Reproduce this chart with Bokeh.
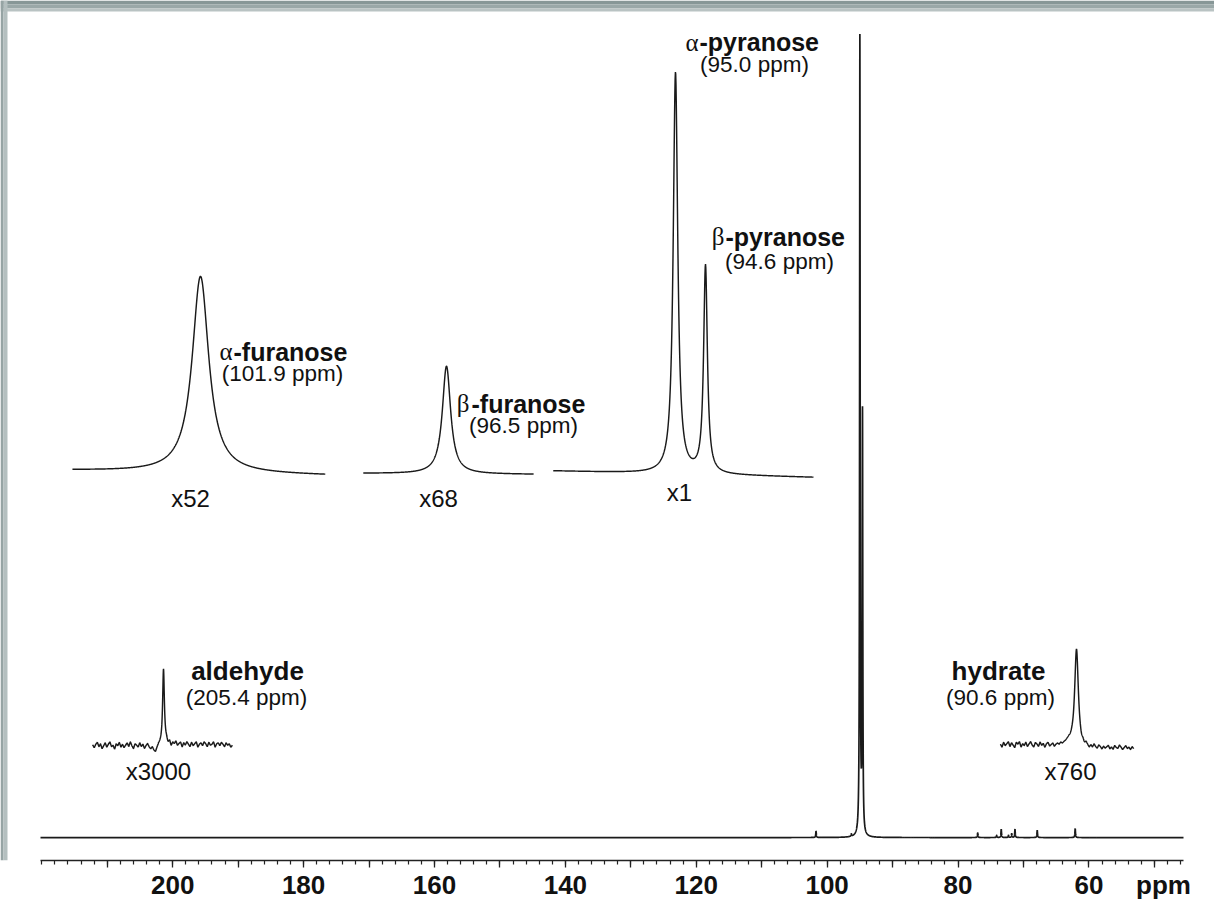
import numpy as np
from bokeh.plotting import figure
from bokeh.models import Range1d, FixedTicker, LinearAxis, BoxAnnotation
from bokeh.core.properties import value
from bokeh.embed import file_html
from bokeh.resources import INLINE

# ---------------- data ----------------
AXIS_PPM = (220.2, 45.55)                      # drawn axis extent (ppm), reversed
label_ticks = [200, 180, 160, 140, 120, 100, 80, 60]
unit_tick = 48.6                               # position of the "ppm" unit label
major_ticks = list(range(210, 49, -10))
minor_ticks = list(range(220, 45, -2))

# main spectrum: peak position (ppm), height above baseline, half width (ppm)
main_ppm = [101.7, 96.3, 95.0, 94.6, 77.0, 74.1, 73.4, 72.3, 71.8, 71.3, 67.9, 62.1]
main_height = [6.3, 2.3, 799.0, 420.0, 4.7, 2.3, 8.3, 2.3, 4.0, 8.3, 7.3, 9.0]
main_hwhm = [0.05, 0.05, 0.05, 0.05, 0.05, 0.05, 0.05, 0.05, 0.05, 0.05, 0.05, 0.05]

# expansions (insets)
furA_window = [103.87, 99.98]
furA_ppm = [101.9]
furA_height = [197.0]
furA_hwhm = [0.154]
furA_tilt = [2.5, -2.5]

furB_window = [97.78, 95.16]
furB_ppm = [96.5]
furB_height = [108.0]
furB_hwhm = [0.077]
furB_tilt = [0.5, -0.5]

pyr_window = [96.63, 93.16]
pyr_ppm = [95.0, 94.6]
pyr_height = [402.0, 208.0]
pyr_hwhm = [0.036, 0.030]
pyr_tilt = [3.5, -3.0]

ald_window = [206.49, 204.34]
ald_ppm = [205.4]
ald_height = [77.0]
ald_hwhm = [0.016]
ald_noise = [1.0, -2.0, 1.5, 3.5, -1.0, 2.0, -3.0, 0.0, 3.0, -1.5,
             1.5, 4.0, -1.0, 0.5, -3.5, 2.0, 0.0, 3.5, -1.5, 1.5,
             -2.0, 0.5, 3.0, -1.0, 4.0, 0.0, -3.0, 2.0, 0.5, -1.5,
             3.0, -1.0, 1.5, -3.0, 0.0, 2.0, -1.5, -3.5, -1.5, -5.0,
             -7.0, -3.0, 0.0, 0.5, 0.0, 0.0, 1.5, 3.5, 0.5, 4.0,
             -1.0, 3.0, 1.5, 4.5, 0.0, 2.0, 3.5, -1.5, 3.0, 0.5,
             4.0, 1.5, -1.0, 3.5, 0.0, 2.0, 4.0, -1.5, 1.5, 3.0,
             0.0, 4.0, 2.0, -1.0, 3.5, 0.5, 1.5, 4.0, -1.5, 2.0,
             3.0, 0.0, 3.5, 1.5, -1.0, 3.0, 0.5, 2.0, -1.5, 0.5]

hyd_window = [91.77, 89.72]
hyd_ppm = [90.6]
hyd_height = [97.0]
hyd_hwhm = [0.034]
hyd_noise = [1.5, -1.5, 3.5, 0.0, 2.0, 4.0, -1.0, 3.0, 0.5, -2.0,
             3.5, 1.5, 4.0, -1.5, 2.0, 0.0, 3.5, -1.0, 1.5, 4.0,
             0.5, -1.5, 3.0, 1.5, -1.0, 3.5, 0.0, 2.0, -2.0, 1.5,
             3.0, -1.0, 0.5, 2.0, -1.5, 0.5, 1.5, 0.0, 2.0, 0.5,
             1.5, 2.0, 3.0, 3.5, 2.0, 1.5, 0.0, 0.0, 0.0, 0.0,
             -1.5, -3.5, -1.5, -3.0, 0.0, -2.0, -4.0, -1.0, -3.0, 0.5,
             -2.0, -3.5, 0.0, -1.5, -4.0, -1.0, -3.0, -1.5, 0.0, -3.5,
             -1.5, -4.0, 0.0, -2.0, -3.0, 0.5, -1.5, -4.0, -2.0, 0.0,
             -3.0, -1.5, -4.0, -1.0, -3.0]

# ---------------- layout (page pixels; the figure sits at the page origin) ----------------
FIG_W, FIG_H = 1214, 902
MB_B = 40
FR_W, FR_H = FIG_W, FIG_H - MB_B              # frame spans x 0..1214, y 0..862
AX_L, AX_R = 40, 1183                          # pixel extent of the ppm axis
KX = (AX_R - AX_L) / (AXIS_PPM[0] - AXIS_PPM[1])
MAIN_BASE = 839

SANS = value("Liberation Sans")
SERIF = value("Liberation Serif")
INK = "#111111"


def tx(px):
    return AXIS_PPM[0] - (px - AX_L) / KX


def ty(py):
    return MAIN_BASE - py


def lorentz(x, centers, heights, hwhms):
    y = np.zeros_like(x)
    for c, h, w in zip(centers, heights, hwhms):
        y += h / (1.0 + ((x - c) / w) ** 2)
    return y


p = figure(width=FIG_W, height=FIG_H, output_backend="svg", toolbar_location=None,
           x_range=Range1d(tx(0), tx(FR_W)),
           y_range=Range1d(ty(FR_H), ty(0)),
           y_axis_location=None, min_border_left=0, min_border_right=0,
           min_border_top=0, min_border_bottom=MB_B,
           background_fill_color="white", border_fill_color="white")
p.outline_line_color = None
p.xgrid.visible = False
p.ygrid.visible = False

# scanned-page edge (grey band along top and left)
for (t, b, col) in [(0, 4, "#879797"), (4, 8, "#9aa8a8"), (8, 11, "#b9c3c3")]:
    p.add_layout(BoxAnnotation(left=tx(0), right=tx(FR_W), top=ty(t), bottom=ty(b),
                               fill_color=col, fill_alpha=1, line_color=None))
for (l, r, col) in [(0, 3, "#96a4a4"), (3, 7, "#b4bfbf")]:
    p.add_layout(BoxAnnotation(left=tx(l), right=tx(r), top=ty(0), bottom=ty(FR_H),
                               fill_color=col, fill_alpha=1, line_color=None))

# main spectrum
xm = np.linspace(AXIS_PPM[0], AXIS_PPM[1], 24000)
ym = lorentz(xm, main_ppm, main_height, main_hwhm)
p.line(xm, ym, line_color="#1a1a1a", line_width=1.7)

# insets: (name, window, ppm, height, hwhm, tilt, noise, anchor ppm, anchor px, baseline py, px/ppm)
insets = [
    ("furA", furA_window, furA_ppm, furA_height, furA_hwhm, furA_tilt, None, 101.9, 200, 473.5, 65.0),
    ("furB", furB_window, furB_ppm, furB_height, furB_hwhm, furB_tilt, None, 96.5, 446, 474.5, 65.0),
    ("pyr", pyr_window, pyr_ppm, pyr_height, pyr_hwhm, pyr_tilt, None, 95.0, 675, 475.0, 75.0),
    ("ald", ald_window, ald_ppm, ald_height, ald_hwhm, [0, 0], ald_noise, 205.4, 163, 747.0, 65.0),
    ("hyd", hyd_window, hyd_ppm, hyd_height, hyd_hwhm, [0, 0], hyd_noise, 90.6, 1076, 747.0, 65.0),
]
for name, win, ppm, hgt, hw, tilt, noise, a_ppm, a_px, base, k in insets:
    start = a_ppm + a_px / k
    p.extra_x_ranges[name] = Range1d(start, start - FR_W / k)
    p.extra_y_ranges[name] = Range1d(-(FR_H - base), base)
    x = np.linspace(win[0], win[1], 900)
    frac = (x - win[0]) / (win[1] - win[0])
    y = lorentz(x, ppm, hgt, hw) + tilt[0] + (tilt[1] - tilt[0]) * frac
    if noise is not None:
        y = y + np.interp(frac, np.linspace(0, 1, len(noise)), noise)
    p.line(x, y, x_range_name=name, y_range_name=name, line_color="#1a1a1a", line_width=1.45)


# ---------------- texts ----------------
def put(items, size, style="normal", align="center", font=SANS):
    p.text(x=[tx(a) for a, b, c in items], y=[ty(b) for a, b, c in items],
           text=[c for a, b, c in items], text_font=font, text_font_size=size,
           text_font_style=style, text_align=align, text_baseline="middle",
           text_color=INK)


put([(698, 42, "α"), (724, 237, "β"), (232, 352, "α"), (469, 404, "β")],
    "25px", "normal", "right", SERIF)
put([(699, 42, "-pyranose"), (725, 237, "-pyranose"), (233, 352, "-furanose"),
     (471, 404, "-furanose")], "25px", "bold", "left")
put([(247, 672, "aldehyde"), (998, 672, "hydrate")], "26px", "bold", "center")
put([(754, 64, "(95.0 ppm)"), (779, 262, "(94.6 ppm)"), (282, 373.5, "(101.9 ppm)"),
     (523, 425.5, "(96.5 ppm)"), (246, 699, "(205.4 ppm)"), (1000, 699, "(90.6 ppm)")],
    "22.5px", "normal", "center")
put([(190, 499, "x52"), (438, 499, "x68"), (679, 493, "x1"), (158, 773, "x3000"),
     (1070, 773, "x760")], "24px", "normal", "center")

# ---------------- axes ----------------
# axis line with ticks (no labels)
ax = p.xaxis[0]
ax.bounds = (AXIS_PPM[1], AXIS_PPM[0])
ax.ticker = FixedTicker(ticks=major_ticks, minor_ticks=minor_ticks)
ax.major_label_overrides = {t: "" for t in major_ticks}
ax.major_label_text_font_size = "0px"
ax.major_label_standoff = 0
ax.axis_line_color = "#222222"
ax.axis_line_width = 1.5
ax.major_tick_line_color = "#222222"
ax.major_tick_line_width = 1.3
ax.major_tick_in = 0
ax.major_tick_out = 7
ax.minor_tick_line_color = "#222222"
ax.minor_tick_line_width = 1.2
ax.minor_tick_in = 0
ax.minor_tick_out = 4

# tick labels and unit
lab = LinearAxis(ticker=FixedTicker(ticks=label_ticks + [unit_tick], minor_ticks=[]))
lab.major_label_overrides = {t: str(t) for t in label_ticks}
lab.major_label_overrides[unit_tick] = "ppm"
lab.major_label_text_font = "Liberation Sans"
lab.major_label_text_font_size = "26px"
lab.major_label_text_font_style = "bold"
lab.major_label_text_color = INK
lab.major_label_standoff = 2
lab.axis_line_color = None
lab.major_tick_line_color = None
lab.minor_tick_line_color = None
lab.major_tick_in = 0
lab.major_tick_out = 0
lab.minor_tick_in = 0
lab.minor_tick_out = 0
p.add_layout(lab, "below")

open("out.html", "w").write(file_html(p, INLINE))
